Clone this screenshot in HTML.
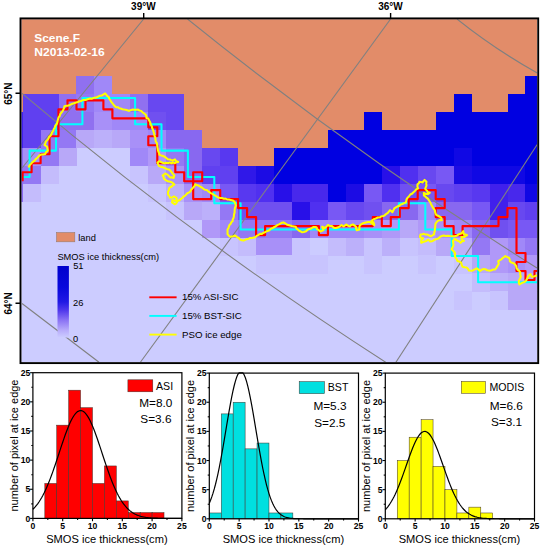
<!DOCTYPE html>
<html><head><meta charset="utf-8"><title>Scene F</title>
<style>
html,body{margin:0;padding:0;background:#fff;}
body{width:541px;height:550px;overflow:hidden;}
svg{display:block;}
text{font-family:"Liberation Sans",sans-serif;fill:#000;}
.tk{font-size:8.6px;font-weight:bold;}
.xl{font-size:11.1px;}
.yl{font-size:11.0px;}
.lg{font-size:10.6px;}
.ms{font-size:11.8px;}
.ax{font-size:10px;font-weight:bold;}
.ml{font-size:9.3px;}
.ml2{font-size:9.7px;}
.sc{font-size:11.0px;font-weight:bold;fill:#fff;}
</style></head><body>
<svg width="541" height="550" viewBox="0 0 541 550">
<defs><clipPath id="mc"><rect x="21.4" y="19.3" width="515.9" height="342.9"/></clipPath>
<linearGradient id="cb" x1="0" y1="0" x2="0" y2="1"><stop offset="0" stop-color="#0000cd"/><stop offset="0.3" stop-color="#0808dc"/><stop offset="0.5" stop-color="#2018e4"/><stop offset="0.62" stop-color="#5038ec"/><stop offset="0.75" stop-color="#8870f4"/><stop offset="0.9" stop-color="#b8acfb"/><stop offset="1" stop-color="#ccccff"/></linearGradient></defs>
<rect width="541" height="550" fill="#fff"/>
<g clip-path="url(#mc)" shape-rendering="crispEdges">
<rect x="21.4" y="19.3" width="515.9" height="342.9" fill="#ccccff"/>
<rect x="21.4" y="19.3" width="515.9" height="57.19" fill="#e28c69"/>
<rect x="22.60" y="76.19" width="54.18" height="18.23" fill="#e28c69"/>
<rect x="76.48" y="76.19" width="18.26" height="18.23" fill="#9070f0"/>
<rect x="94.44" y="76.19" width="18.26" height="18.23" fill="#a088f8"/>
<rect x="112.40" y="76.19" width="413.38" height="18.23" fill="#e28c69"/>
<rect x="525.48" y="76.19" width="12.12" height="18.23" fill="#0000e1"/>
<rect x="22.60" y="94.12" width="36.22" height="18.23" fill="#6040f0"/>
<rect x="58.52" y="94.12" width="18.26" height="18.23" fill="#9070f0"/>
<rect x="76.48" y="94.12" width="18.26" height="18.23" fill="#9478f4"/>
<rect x="94.44" y="94.12" width="36.22" height="18.23" fill="#a088f8"/>
<rect x="130.36" y="94.12" width="18.26" height="18.23" fill="#9070f0"/>
<rect x="148.32" y="94.12" width="36.22" height="18.23" fill="#6848f0"/>
<rect x="184.24" y="94.12" width="269.70" height="18.23" fill="#e28c69"/>
<rect x="453.64" y="94.12" width="18.26" height="18.23" fill="#0000e1"/>
<rect x="471.60" y="94.12" width="36.22" height="18.23" fill="#e28c69"/>
<rect x="507.52" y="94.12" width="30.08" height="18.23" fill="#0000e1"/>
<rect x="22.60" y="112.05" width="36.22" height="18.23" fill="#6040f0"/>
<rect x="58.52" y="112.05" width="36.22" height="18.23" fill="#9070f0"/>
<rect x="94.44" y="112.05" width="18.26" height="18.23" fill="#a890f8"/>
<rect x="112.40" y="112.05" width="36.22" height="18.23" fill="#a088f8"/>
<rect x="148.32" y="112.05" width="18.26" height="18.23" fill="#7050f0"/>
<rect x="166.28" y="112.05" width="18.26" height="18.23" fill="#6848f0"/>
<rect x="184.24" y="112.05" width="179.90" height="18.23" fill="#e28c69"/>
<rect x="363.84" y="112.05" width="18.26" height="18.23" fill="#0000e1"/>
<rect x="381.80" y="112.05" width="54.18" height="18.23" fill="#e28c69"/>
<rect x="435.68" y="112.05" width="101.92" height="18.23" fill="#0000e1"/>
<rect x="22.60" y="129.98" width="18.26" height="18.23" fill="#6040f0"/>
<rect x="40.56" y="129.98" width="36.22" height="18.23" fill="#9478f4"/>
<rect x="76.48" y="129.98" width="18.26" height="18.23" fill="#b8a8f8"/>
<rect x="94.44" y="129.98" width="18.26" height="18.23" fill="#bcb0fa"/>
<rect x="112.40" y="129.98" width="18.26" height="18.23" fill="#b8a8f8"/>
<rect x="130.36" y="129.98" width="18.26" height="18.23" fill="#a890f8"/>
<rect x="148.32" y="129.98" width="18.26" height="18.23" fill="#a088f8"/>
<rect x="166.28" y="129.98" width="36.22" height="18.23" fill="#8868f0"/>
<rect x="202.20" y="129.98" width="126.02" height="18.23" fill="#e28c69"/>
<rect x="327.92" y="129.98" width="209.68" height="18.23" fill="#0000e1"/>
<rect x="22.60" y="147.91" width="18.26" height="18.23" fill="#a890f8"/>
<rect x="40.56" y="147.91" width="18.26" height="18.23" fill="#9478f4"/>
<rect x="58.52" y="147.91" width="18.26" height="18.23" fill="#b8a8f8"/>
<rect x="130.36" y="147.91" width="18.26" height="18.23" fill="#a088f8"/>
<rect x="148.32" y="147.91" width="18.26" height="18.23" fill="#b098f8"/>
<rect x="166.28" y="147.91" width="18.26" height="18.23" fill="#9478f4"/>
<rect x="184.24" y="147.91" width="18.26" height="18.23" fill="#8868f0"/>
<rect x="202.20" y="147.91" width="18.26" height="18.23" fill="#6848f0"/>
<rect x="220.16" y="147.91" width="18.26" height="18.23" fill="#5838f0"/>
<rect x="238.12" y="147.91" width="36.22" height="18.23" fill="#e28c69"/>
<rect x="274.04" y="147.91" width="179.90" height="18.23" fill="#0000e1"/>
<rect x="453.64" y="147.91" width="18.26" height="18.23" fill="#1008e4"/>
<rect x="471.60" y="147.91" width="66.00" height="18.23" fill="#0000e1"/>
<rect x="22.60" y="165.84" width="18.26" height="18.23" fill="#9478f4"/>
<rect x="40.56" y="165.84" width="18.26" height="18.23" fill="#c4bcfc"/>
<rect x="130.36" y="165.84" width="18.26" height="18.23" fill="#c8c4fe"/>
<rect x="148.32" y="165.84" width="18.26" height="18.23" fill="#b8a8f8"/>
<rect x="166.28" y="165.84" width="18.26" height="18.23" fill="#a890f8"/>
<rect x="184.24" y="165.84" width="18.26" height="18.23" fill="#8868f0"/>
<rect x="202.20" y="165.84" width="36.22" height="18.23" fill="#6040f0"/>
<rect x="238.12" y="165.84" width="18.26" height="18.23" fill="#3018e8"/>
<rect x="256.08" y="165.84" width="18.26" height="18.23" fill="#1c0ce4"/>
<rect x="274.04" y="165.84" width="108.06" height="18.23" fill="#0000e1"/>
<rect x="381.80" y="165.84" width="18.26" height="18.23" fill="#2810e8"/>
<rect x="399.76" y="165.84" width="18.26" height="18.23" fill="#5030f0"/>
<rect x="417.72" y="165.84" width="18.26" height="18.23" fill="#6848f0"/>
<rect x="435.68" y="165.84" width="18.26" height="18.23" fill="#7858f4"/>
<rect x="453.64" y="165.84" width="18.26" height="18.23" fill="#1c0ce4"/>
<rect x="471.60" y="165.84" width="54.18" height="18.23" fill="#1008e4"/>
<rect x="525.48" y="165.84" width="12.12" height="18.23" fill="#0000e1"/>
<rect x="22.60" y="183.77" width="18.26" height="18.23" fill="#c4bcfc"/>
<rect x="148.32" y="183.77" width="18.26" height="18.23" fill="#c8c4fe"/>
<rect x="166.28" y="183.77" width="18.26" height="18.23" fill="#bcb0fa"/>
<rect x="184.24" y="183.77" width="18.26" height="18.23" fill="#a890f8"/>
<rect x="202.20" y="183.77" width="18.26" height="18.23" fill="#a088f8"/>
<rect x="220.16" y="183.77" width="18.26" height="18.23" fill="#7858f4"/>
<rect x="238.12" y="183.77" width="18.26" height="18.23" fill="#5838f0"/>
<rect x="256.08" y="183.77" width="18.26" height="18.23" fill="#5030f0"/>
<rect x="274.04" y="183.77" width="18.26" height="18.23" fill="#2810e8"/>
<rect x="292.00" y="183.77" width="36.22" height="18.23" fill="#4828ec"/>
<rect x="327.92" y="183.77" width="18.26" height="18.23" fill="#0000e1"/>
<rect x="345.88" y="183.77" width="18.26" height="18.23" fill="#1c0ce4"/>
<rect x="363.84" y="183.77" width="18.26" height="18.23" fill="#7858f4"/>
<rect x="381.80" y="183.77" width="18.26" height="18.23" fill="#5030f0"/>
<rect x="399.76" y="183.77" width="18.26" height="18.23" fill="#7050f0"/>
<rect x="417.72" y="183.77" width="18.26" height="18.23" fill="#7858f4"/>
<rect x="435.68" y="183.77" width="18.26" height="18.23" fill="#6848f0"/>
<rect x="453.64" y="183.77" width="18.26" height="18.23" fill="#6040f0"/>
<rect x="471.60" y="183.77" width="18.26" height="18.23" fill="#5838f0"/>
<rect x="489.56" y="183.77" width="18.26" height="18.23" fill="#4020ec"/>
<rect x="507.52" y="183.77" width="18.26" height="18.23" fill="#4828ec"/>
<rect x="525.48" y="183.77" width="12.12" height="18.23" fill="#1008e4"/>
<rect x="166.28" y="201.70" width="18.26" height="18.23" fill="#c8c4fe"/>
<rect x="184.24" y="201.70" width="18.26" height="18.23" fill="#b8a8f8"/>
<rect x="202.20" y="201.70" width="18.26" height="18.23" fill="#bcb0fa"/>
<rect x="220.16" y="201.70" width="18.26" height="18.23" fill="#9478f4"/>
<rect x="238.12" y="201.70" width="54.18" height="18.23" fill="#7050f0"/>
<rect x="292.00" y="201.70" width="18.26" height="18.23" fill="#2810e8"/>
<rect x="309.96" y="201.70" width="18.26" height="18.23" fill="#5030f0"/>
<rect x="327.92" y="201.70" width="18.26" height="18.23" fill="#7858f4"/>
<rect x="345.88" y="201.70" width="18.26" height="18.23" fill="#6848f0"/>
<rect x="363.84" y="201.70" width="18.26" height="18.23" fill="#7050f0"/>
<rect x="381.80" y="201.70" width="36.22" height="18.23" fill="#8868f0"/>
<rect x="417.72" y="201.70" width="18.26" height="18.23" fill="#a088f8"/>
<rect x="435.68" y="201.70" width="36.22" height="18.23" fill="#8868f0"/>
<rect x="471.60" y="201.70" width="18.26" height="18.23" fill="#7858f4"/>
<rect x="489.56" y="201.70" width="18.26" height="18.23" fill="#4020ec"/>
<rect x="507.52" y="201.70" width="18.26" height="18.23" fill="#6848f0"/>
<rect x="525.48" y="201.70" width="12.12" height="18.23" fill="#6040f0"/>
<rect x="202.20" y="219.63" width="18.26" height="18.23" fill="#b098f8"/>
<rect x="220.16" y="219.63" width="18.26" height="18.23" fill="#a088f8"/>
<rect x="238.12" y="219.63" width="54.18" height="18.23" fill="#9478f4"/>
<rect x="292.00" y="219.63" width="18.26" height="18.23" fill="#8868f0"/>
<rect x="309.96" y="219.63" width="54.18" height="18.23" fill="#a088f8"/>
<rect x="363.84" y="219.63" width="18.26" height="18.23" fill="#a890f8"/>
<rect x="381.80" y="219.63" width="18.26" height="18.23" fill="#b098f8"/>
<rect x="399.76" y="219.63" width="18.26" height="18.23" fill="#b8a8f8"/>
<rect x="417.72" y="219.63" width="18.26" height="18.23" fill="#b098f8"/>
<rect x="435.68" y="219.63" width="18.26" height="18.23" fill="#a890f8"/>
<rect x="453.64" y="219.63" width="18.26" height="18.23" fill="#a088f8"/>
<rect x="471.60" y="219.63" width="18.26" height="18.23" fill="#8868f0"/>
<rect x="489.56" y="219.63" width="18.26" height="18.23" fill="#7050f0"/>
<rect x="507.52" y="219.63" width="30.08" height="18.23" fill="#7858f4"/>
<rect x="220.16" y="237.56" width="18.26" height="18.23" fill="#c8c4fe"/>
<rect x="238.12" y="237.56" width="18.26" height="18.23" fill="#c4bcfc"/>
<rect x="256.08" y="237.56" width="36.22" height="18.23" fill="#a890f8"/>
<rect x="292.00" y="237.56" width="18.26" height="18.23" fill="#c8c4fe"/>
<rect x="327.92" y="237.56" width="18.26" height="18.23" fill="#c4bcfc"/>
<rect x="345.88" y="237.56" width="18.26" height="18.23" fill="#bcb0fa"/>
<rect x="363.84" y="237.56" width="18.26" height="18.23" fill="#c8c4fe"/>
<rect x="381.80" y="237.56" width="18.26" height="18.23" fill="#bcb0fa"/>
<rect x="399.76" y="237.56" width="18.26" height="18.23" fill="#c8c4fe"/>
<rect x="417.72" y="237.56" width="18.26" height="18.23" fill="#c4bcfc"/>
<rect x="435.68" y="237.56" width="18.26" height="18.23" fill="#b8a8f8"/>
<rect x="453.64" y="237.56" width="18.26" height="18.23" fill="#bcb0fa"/>
<rect x="471.60" y="237.56" width="18.26" height="18.23" fill="#9478f4"/>
<rect x="489.56" y="237.56" width="18.26" height="18.23" fill="#b098f8"/>
<rect x="507.52" y="237.56" width="18.26" height="18.23" fill="#a088f8"/>
<rect x="525.48" y="237.56" width="12.12" height="18.23" fill="#9478f4"/>
<rect x="256.08" y="255.49" width="72.14" height="18.23" fill="#c8c4fe"/>
<rect x="363.84" y="255.49" width="18.26" height="18.23" fill="#c8c4fe"/>
<rect x="417.72" y="255.49" width="18.26" height="18.23" fill="#c8c4fe"/>
<rect x="453.64" y="255.49" width="18.26" height="18.23" fill="#c8c4fe"/>
<rect x="471.60" y="255.49" width="18.26" height="18.23" fill="#b8a8f8"/>
<rect x="489.56" y="255.49" width="18.26" height="18.23" fill="#b098f8"/>
<rect x="507.52" y="255.49" width="18.26" height="18.23" fill="#a890f8"/>
<rect x="525.48" y="255.49" width="12.12" height="18.23" fill="#b098f8"/>
<rect x="471.60" y="273.42" width="18.26" height="18.23" fill="#c4bcfc"/>
<rect x="489.56" y="273.42" width="18.26" height="18.23" fill="#bcb0fa"/>
<rect x="507.52" y="273.42" width="30.08" height="18.23" fill="#b8a8f8"/>
<rect x="453.64" y="291.35" width="18.26" height="18.23" fill="#c8c4fe"/>
<rect x="489.56" y="291.35" width="18.26" height="18.23" fill="#c8c4fe"/>
<rect x="507.52" y="291.35" width="30.08" height="18.23" fill="#b8a8f8"/>
<rect x="21.4" y="76.19" width="1.20" height="18.23" fill="#e28c69"/>
<rect x="21.4" y="94.12" width="1.20" height="18.23" fill="#e28c69"/>
<rect x="21.4" y="112.05" width="1.20" height="18.23" fill="#4020ec"/>
<rect x="21.4" y="129.98" width="1.20" height="18.23" fill="#4020ec"/>
<rect x="21.4" y="147.91" width="1.20" height="18.23" fill="#8868f0"/>
<rect x="21.4" y="165.84" width="1.20" height="18.23" fill="#8868f0"/>
<rect x="21.4" y="183.77" width="1.20" height="18.23" fill="#8868f0"/>
</g>
<g clip-path="url(#mc)">
<path d="M143.7 19 L22 168" stroke="#808080" stroke-width="1.1" fill="none"/>
<path d="M390.6 19 L140.2 362.5" stroke="#808080" stroke-width="1.1" fill="none"/>
<path d="M395.6 362.7 L537.2 144.5" stroke="#808080" stroke-width="1.1" fill="none"/>
<path d="M22 93.3 Q195.2 240.2 386.4 362.7" stroke="#808080" stroke-width="1.1" fill="none"/>
<path d="M187.5 19 Q354.7 154.1 537 268" stroke="#808080" stroke-width="1.1" fill="none"/>
<path d="M22 303.5 L99 362.3" stroke="#808080" stroke-width="1.1" fill="none"/>
<path d="M457 19 Q494.9 49.3 537.3 73" stroke="#808080" stroke-width="1.1" fill="none"/>
<path d="M21.4 176.9 L29.6 176.9 L29.6 150.6 L56.0 150.6 L56.0 124.2 L82.4 124.2 L82.4 97.9 L135.1 97.9 L135.1 124.2 L161.5 124.2 L161.5 150.6 L187.9 150.6 L187.9 176.9 L214.3 176.9 L214.3 203.2 L240.6 203.2 L240.6 229.5 L398.9 229.5 L398.9 203.2 L425.3 203.2 L425.3 229.5 L451.7 229.5 L451.7 255.9 L478.1 255.9 L478.1 282.2 L537.3 282.2" fill="none" stroke="#00ffff" stroke-width="2.05" stroke-linejoin="round" stroke-linecap="butt"/>
<path d="M22.6 181.2 L22.6 172.2 L31.6 172.2 L31.6 163.2 L40.6 163.2 L40.6 154.2 L49.5 154.2 L49.5 136.2 L58.5 136.2 L58.5 109.3 L67.5 109.3 L67.5 100.3 L76.5 100.3 L76.5 109.3 L85.5 109.3 L85.5 100.3 L103.4 100.3 L103.4 109.3 L112.4 109.3 L112.4 118.3 L148.3 118.3 L148.3 127.3 L157.3 127.3 L157.3 136.2 L148.3 136.2 L148.3 145.2 L157.3 145.2 L157.3 163.2 L175.3 163.2 L175.3 172.2 L184.2 172.2 L184.2 181.2 L202.2 181.2 L202.2 172.2 L193.2 172.2 L193.2 199.1 L211.2 199.1 L211.2 190.1 L220.2 190.1 L220.2 199.1 L238.1 199.1 L238.1 208.1 L247.1 208.1 L247.1 217.1 L256.1 217.1 L256.1 235.1 L265.1 235.1 L265.1 226.1 L318.9 226.1 L318.9 235.1 L327.9 235.1 L327.9 226.1 L372.8 226.1 L372.8 217.1 L381.8 217.1 L381.8 226.1 L390.8 226.1 L390.8 217.1 L399.8 217.1 L399.8 208.1 L408.7 208.1 L408.7 199.1 L417.7 199.1 L417.7 190.1 L435.7 190.1 L435.7 199.1 L444.7 199.1 L444.7 208.1 L435.7 208.1 L435.7 217.1 L444.7 217.1 L444.7 226.1 L453.6 226.1 L453.6 235.1 L462.6 235.1 L462.6 226.1 L498.5 226.1 L498.5 217.1 L507.5 217.1 L507.5 208.1 L516.5 208.1 L516.5 253.0 L525.5 253.0 L525.5 262.0 L516.5 262.0 L516.5 271.0 L525.5 271.0 L525.5 280.0 L534.5 280.0 L534.5 271.0 L537.3 271.0" fill="none" stroke="#ff0000" stroke-width="2.15" stroke-linejoin="round" stroke-linecap="butt"/>
<path d="M28.4 167.5 L29.5 165.4 L30.9 163.9 L32.3 162.3 L33.5 161.4 L34.8 160.4 L35.7 159.1 L37.4 157.8 L38.3 156.7 L39.6 155.3 L41.3 154.6 L43.2 154.5 L45.2 153.9 L46.2 152.1 L47.8 150.7 L47.6 149.2 L47.1 146.8 L45.9 145.8 L44.5 144.9 L45.6 142.8 L45.8 141.6 L47.5 139.9 L48.5 138.5 L49.2 136.7 L50.3 135.9 L51.5 134.2 L52.0 132.6 L53.2 130.8 L53.9 128.9 L54.7 127.7 L55.2 125.7 L56.6 124.2 L57.3 122.5 L57.6 120.8 L58.1 118.9 L58.6 117.3 L59.7 116.0 L60.1 114.4 L61.2 112.8 L62.2 111.8 L63.1 110.2 L64.0 108.1 L64.4 106.3 L66.4 105.7 L67.6 105.7 L69.2 105.3 L70.9 104.4 L72.3 103.8 L74.0 103.3 L76.1 102.5 L77.9 102.0 L79.5 101.3 L80.9 101.0 L82.3 100.4 L83.8 99.9 L85.7 100.0 L87.0 99.4 L88.3 99.1 L90.3 98.6 L92.1 98.7 L93.8 97.8 L95.1 97.8 L96.8 97.3 L98.1 96.6 L99.9 95.7 L101.9 95.4 L103.2 94.6 L105.2 93.4 L106.0 94.4 L107.4 96.1 L108.7 97.0 L109.3 98.7 L110.6 100.8 L111.5 102.2 L112.9 103.8 L113.5 104.7 L114.8 106.1 L116.1 107.2 L118.1 107.3 L119.2 108.3 L120.6 108.5 L122.4 109.2 L124.4 109.6 L126.7 110.0 L128.9 110.9 L130.4 110.2 L132.8 109.6 L134.4 109.7 L136.7 109.8 L138.0 109.6 L139.5 110.6 L141.2 110.9 L142.5 112.2 L144.5 113.8 L145.8 114.8 L146.4 116.7 L146.4 118.0 L148.3 118.6 L149.2 120.5 L150.3 122.5 L150.7 124.5 L151.8 126.3 L152.2 128.2 L153.4 130.8 L153.6 132.2 L154.2 133.7 L154.4 135.5 L155.3 137.5 L155.4 139.3 L155.8 141.6 L156.8 142.8 L157.2 145.0 L157.3 146.8 L157.7 148.6 L158.1 150.9 L159.1 153.3 L159.4 154.8 L161.1 155.4 L162.5 155.7 L164.6 156.7 L166.1 157.8 L167.8 159.3 L170.3 159.6 L172.3 160.6 L174.9 159.3 L176.1 161.0 L178.2 161.9 L176.6 162.2 L174.9 163.2 L173.2 162.5 L171.5 163.2 L169.8 162.5 L168.4 162.9 L166.1 162.8 L164.6 163.2 L162.6 162.8 L161.2 162.1 L159.4 161.2 L157.5 162.5 L158.0 163.9 L158.8 165.8 L161.0 166.9 L162.6 167.1 L165.2 168.3 L167.5 169.2 L169.1 169.6 L170.7 171.1 L171.7 172.2 L172.8 173.9 L174.3 175.5 L173.6 178.0 L171.9 177.3 L170.4 177.4 L168.7 175.9 L167.8 174.8 L165.2 173.5 L163.7 174.7 L162.6 175.5 L163.7 177.1 L163.9 178.7 L166.2 180.4 L167.8 181.3 L170.5 181.8 L172.3 182.6 L174.3 184.5 L172.7 185.3 L171.7 186.5 L170.1 187.2 L169.1 188.4 L168.7 190.6 L168.0 192.0 L168.1 194.6 L169.4 196.2 L170.1 197.8 L172.1 197.4 L173.9 196.5 L176.5 197.8 L176.5 199.9 L177.2 201.7 L176.3 203.3 L174.6 204.3 L173.5 203.3 L172.0 202.3 L172.6 199.8 L174.3 200.7 L176.5 201.1 L179.1 200.4 L180.4 199.4 L182.5 197.7 L183.6 196.5 L184.8 195.9 L186.4 194.3 L187.2 193.3 L188.8 192.6 L190.5 191.4 L191.1 189.9 L192.7 188.1 L194.4 186.3 L195.3 184.2 L196.8 185.1 L198.2 185.4 L200.6 186.8 L201.8 187.5 L203.4 188.8 L204.9 189.7 L206.9 190.1 L208.2 191.3 L209.4 192.0 L210.8 193.1 L212.5 193.9 L214.3 195.1 L216.5 196.4 L218.1 197.5 L220.4 197.9 L222.0 198.1 L223.9 198.7 L225.5 198.6 L227.2 199.4 L229.0 199.5 L230.7 199.9 L232.7 200.4 L234.6 201.8 L235.2 203.5 L235.9 205.7 L235.0 207.7 L234.7 209.1 L234.6 210.9 L234.6 212.7 L234.0 214.4 L233.9 216.1 L233.5 218.1 L232.7 219.6 L232.6 221.2 L231.3 222.3 L230.7 223.8 L229.4 225.1 L228.8 226.8 L228.5 228.0 L227.5 229.6 L227.6 231.9 L227.5 234.2 L228.8 235.7 L230.1 236.8 L231.8 236.4 L233.5 236.3 L235.2 235.5 L236.9 237.1 L238.7 237.8 L239.8 239.3 L241.8 240.3 L243.6 240.6 L245.6 239.6 L246.7 239.3 L248.8 238.7 L250.1 238.0 L251.9 238.0 L254.0 237.4 L255.8 236.9 L256.7 235.9 L258.5 234.8 L260.1 233.8 L261.8 234.0 L263.0 232.9 L264.3 232.6 L266.0 231.6 L267.6 230.9 L269.5 230.3 L270.3 229.1 L272.1 228.3 L273.8 227.3 L275.5 226.5 L277.2 225.1 L279.5 224.1 L281.6 222.8 L283.4 222.4 L285.4 223.5 L287.3 224.8 L289.1 225.3 L291.8 226.1 L293.9 226.4 L295.7 226.7 L296.4 228.4 L298.1 229.7 L298.9 230.6 L300.2 231.2 L302.2 232.3 L303.7 232.0 L306.1 231.2 L307.5 229.7 L309.3 228.9 L311.2 228.4 L313.2 227.1 L315.1 227.0 L316.4 227.3 L317.0 229.0 L318.3 229.9 L320.3 231.5 L322.0 230.9 L323.5 229.9 L322.5 227.9 L322.2 226.7 L324.8 228.0 L326.6 226.4 L328.0 225.0 L329.6 225.9 L331.9 226.1 L333.3 227.3 L334.5 228.0 L336.1 228.0 L338.4 227.3 L339.6 226.5 L341.6 225.0 L343.6 226.5 L345.0 225.4 L346.5 224.5 L348.1 225.8 L349.7 226.4 L351.1 225.1 L352.9 224.5 L354.6 225.5 L356.2 227.0 L356.1 228.3 L356.8 230.3 L359.4 229.6 L359.4 226.4 L360.3 224.8 L362.0 223.8 L363.8 223.0 L365.9 222.5 L368.1 222.0 L369.8 221.9 L372.3 223.8 L374.3 225.1 L373.6 222.5 L371.7 220.6 L373.7 219.3 L375.6 218.6 L377.7 217.5 L380.1 217.3 L381.4 216.2 L383.3 216.1 L384.6 215.4 L386.0 214.1 L387.9 212.8 L389.2 211.1 L389.8 210.2 L391.4 211.1 L392.4 212.2 L393.3 210.6 L394.3 208.3 L395.9 207.3 L397.6 206.3 L399.4 205.8 L400.8 204.4 L402.3 204.0 L404.0 203.1 L405.8 202.5 L406.3 201.0 L406.5 199.3 L407.7 197.6 L409.1 196.1 L410.3 194.5 L412.3 193.5 L413.2 192.4 L414.9 190.9 L416.3 189.3 L418.1 188.3 L417.4 186.7 L417.5 184.4 L418.8 183.3 L419.4 181.8 L420.8 181.9 L422.6 182.5 L423.4 181.2 L424.6 179.9 L426.5 181.8 L426.2 183.7 L426.5 185.7 L425.6 187.7 L425.2 188.9 L426.9 190.6 L427.8 192.2 L429.8 192.8 L427.8 194.1 L425.6 193.9 L423.9 192.8 L423.9 195.4 L425.0 196.3 L426.1 197.4 L427.8 198.6 L429.1 200.6 L430.4 202.5 L431.1 204.5 L432.3 206.4 L433.2 208.1 L434.9 210.3 L435.2 212.5 L436.2 214.8 L438.5 216.0 L441.2 217.6 L441.9 220.2 L439.5 220.1 L438.0 220.8 L436.5 222.2 L435.4 224.1 L435.3 225.8 L435.2 227.6 L434.8 229.2 L434.8 231.3 L434.2 232.5 L434.1 234.4 L432.9 235.0 L430.9 236.3 L429.2 235.5 L427.0 234.4 L425.0 234.4 L423.8 233.8 L422.5 234.2 L420.5 234.4 L419.9 237.0 L421.7 237.9 L423.1 238.3 L421.2 240.2 L421.2 242.8 L422.5 242.2 L424.4 241.5 L426.4 240.9 L428.3 239.6 L430.2 241.5 L432.0 241.2 L433.3 240.6 L434.8 239.6 L436.9 239.1 L438.6 238.3 L440.3 236.6 L442.5 235.7 L443.9 235.6 L445.6 236.0 L447.7 235.7 L450.0 236.1 L452.2 236.3 L454.6 236.2 L456.8 235.7 L458.7 234.3 L460.6 233.8 L462.2 232.7 L463.2 231.2 L463.6 232.8 L463.9 234.4 L465.6 234.4 L467.1 235.1 L466.0 235.8 L464.5 237.0 L461.3 237.0 L461.9 239.6 L463.9 240.9 L461.9 241.6 L460.6 242.8 L459.5 241.6 L458.0 240.9 L456.6 240.3 L454.8 238.9 L452.9 240.9 L453.2 243.0 L453.5 245.4 L452.5 247.5 L451.6 249.3 L453.4 251.0 L454.8 252.5 L455.2 253.9 L454.9 255.7 L455.5 257.7 L456.7 259.1 L457.4 260.9 L459.4 261.5 L461.3 262.9 L461.6 264.6 L462.6 266.8 L464.7 267.3 L466.5 267.4 L467.9 268.8 L469.0 270.6 L472.0 270.8 L474.2 269.6 L476.8 268.3 L478.5 269.6 L480.1 270.9 L482.0 269.6 L483.9 269.0 L485.9 269.4 L487.2 270.3 L489.9 270.7 L491.7 270.3 L492.8 269.6 L495.0 269.4 L496.2 268.3 L497.0 266.6 L497.7 265.7 L498.8 263.8 L498.2 261.2 L499.5 260.3 L501.4 259.3 L502.4 258.3 L504.4 256.8 L505.3 256.1 L507.5 257.1 L509.2 258.0 L509.8 259.8 L509.8 261.2 L511.5 262.6 L513.7 263.2 L515.0 264.4 L516.3 266.4 L516.5 268.0 L517.6 269.6 L518.9 270.7 L520.2 272.2 L520.2 274.4 L520.8 276.8 L519.7 279.0 L518.9 280.6 L518.8 282.8 L519.5 284.5 L521.5 283.2 L522.8 282.6 L524.8 281.8 L526.0 280.6 L527.3 278.5 L527.9 276.8 L529.1 275.4 L530.5 274.2 L531.8 276.8 L533.8 276.5 L535.0 276.1 L537.2 275.5" fill="none" stroke="#ffff00" stroke-width="2.05" stroke-linejoin="round" stroke-linecap="butt"/>
</g>
<rect x="20.5" y="18.400000000000002" width="517.6999999999999" height="344.7" fill="none" stroke="#000" stroke-width="1.9"/>
<path d="M143.7 13 V18.5 M390.6 13 V18.5 M15.5 93.3 H20.6 M15.5 303.3 H20.6" stroke="#000" stroke-width="1.4"/>
<text x="143.4" y="10.4" text-anchor="middle" class="ax">39°W</text>
<text x="390.5" y="10.4" text-anchor="middle" class="ax">36°W</text>
<text transform="translate(12.1,93.6) rotate(-90)" text-anchor="middle" class="ax">65°N</text>
<text transform="translate(12.1,303.4) rotate(-90)" text-anchor="middle" class="ax">64°N</text>
<text x="34.3" y="42.2" class="sc" textLength="45.6" lengthAdjust="spacingAndGlyphs">Scene.F</text>
<text x="34.3" y="55.8" class="sc" textLength="70.4" lengthAdjust="spacingAndGlyphs">N2013-02-16</text>
<rect x="56.6" y="232.6" width="18.2" height="9.2" fill="#e28c69" stroke="#9a7a6a" stroke-width="0.6"/>
<text x="78.3" y="240.6" class="ml">land</text>
<text x="57.4" y="259.6" class="ml">SMOS ice thickness(cm)</text>
<rect x="57.5" y="266" width="11.4" height="71.6" fill="url(#cb)"/>
<text x="73.2" y="269.3" class="ml">51</text>
<text x="73" y="306" class="ml">26</text>
<text x="73" y="342.2" class="ml">0</text>
<path d="M149.3 297.3 H176.6" stroke="#ff0000" stroke-width="1.9"/>
<text x="182" y="300.4" class="ml2">15% ASI-SIC</text>
<path d="M149.3 315.9 H176.6" stroke="#00ffff" stroke-width="1.9"/>
<text x="182" y="319.0" class="ml2">15% BST-SIC</text>
<path d="M149.3 334.6 H176.6" stroke="#ffff00" stroke-width="1.9"/>
<text x="182" y="337.7" class="ml2">PSO ice edge</text>
<rect x="44.82" y="483.43" width="11.92" height="34.97" fill="#ff0000" stroke="#40302a" stroke-width="0.5"/>
<rect x="56.74" y="425.15" width="11.92" height="93.25" fill="#ff0000" stroke="#40302a" stroke-width="0.5"/>
<rect x="68.66" y="390.18" width="11.92" height="128.22" fill="#ff0000" stroke="#40302a" stroke-width="0.5"/>
<rect x="80.58" y="407.67" width="11.92" height="110.73" fill="#ff0000" stroke="#40302a" stroke-width="0.5"/>
<rect x="92.50" y="483.43" width="11.92" height="34.97" fill="#ff0000" stroke="#40302a" stroke-width="0.5"/>
<rect x="104.42" y="465.95" width="11.92" height="52.45" fill="#ff0000" stroke="#40302a" stroke-width="0.5"/>
<rect x="116.34" y="500.92" width="11.92" height="17.48" fill="#ff0000" stroke="#40302a" stroke-width="0.5"/>
<rect x="128.26" y="512.57" width="11.92" height="5.83" fill="#ff0000" stroke="#40302a" stroke-width="0.5"/>
<rect x="140.18" y="512.57" width="11.92" height="5.83" fill="#ff0000" stroke="#40302a" stroke-width="0.5"/>
<rect x="152.10" y="512.57" width="11.92" height="5.83" fill="#ff0000" stroke="#40302a" stroke-width="0.5"/>
<polyline points="32.90,509.27 34.14,508.04 35.38,506.67 36.62,505.18 37.87,503.54 39.11,501.75 40.35,499.81 41.59,497.71 42.83,495.46 44.08,493.04 45.32,490.47 46.56,487.73 47.80,484.84 49.04,481.80 50.28,478.61 51.52,475.30 52.77,471.86 54.01,468.32 55.25,464.69 56.49,460.99 57.73,457.24 58.97,453.46 60.22,449.68 61.46,445.92 62.70,442.21 63.94,438.58 65.18,435.06 66.42,431.67 67.67,428.44 68.91,425.41 70.15,422.60 71.39,420.03 72.63,417.73 73.88,415.72 75.12,414.02 76.36,412.65 77.60,411.62 78.84,410.94 80.08,410.61 81.32,410.65 82.57,411.04 83.81,411.80 85.05,412.90 86.29,414.34 87.53,416.10 88.78,418.17 90.02,420.52 91.26,423.14 92.50,426.00 93.74,429.07 94.98,432.33 96.22,435.75 97.47,439.30 98.71,442.95 99.95,446.67 101.19,450.43 102.43,454.22 103.68,457.99 104.92,461.73 106.16,465.42 107.40,469.04 108.64,472.56 109.88,475.97 111.12,479.26 112.37,482.42 113.61,485.43 114.85,488.29 116.09,490.99 117.33,493.54 118.57,495.92 119.82,498.15 121.06,500.21 122.30,502.12 123.54,503.88 124.78,505.49 126.03,506.96 127.27,508.29 128.51,509.50 129.75,510.60 130.99,511.58 132.23,512.45 133.47,513.24 134.72,513.93 135.96,514.54 137.20,515.08 138.44,515.56 139.68,515.97 140.93,516.33 142.17,516.65 143.41,516.92 144.65,517.15 145.89,517.35 147.13,517.52 148.38,517.67 149.62,517.79 150.86,517.90 152.10,517.98 153.34,518.06 154.58,518.12 155.82,518.17 157.07,518.21 158.31,518.25 159.55,518.28 160.79,518.30 162.03,518.32 163.28,518.34 164.52,518.35 165.76,518.36 167.00,518.37 168.24,518.37 169.48,518.38 170.72,518.38 171.97,518.39 173.21,518.39 174.45,518.39 175.69,518.39 176.93,518.40 178.18,518.40 179.42,518.40 180.66,518.40 181.90,518.40" fill="none" stroke="#000" stroke-width="1.2"/>
<rect x="32.9" y="372.7" width="149.0" height="145.7" fill="none" stroke="#000" stroke-width="1.2"/>
<path d="M30.10 518.40 H32.9" stroke="#000" stroke-width="1.1"/>
<path d="M32.90 518.4 V521.20" stroke="#000" stroke-width="1.1"/>
<path d="M31.30 503.83 H32.9" stroke="#000" stroke-width="1.1"/>
<path d="M47.80 518.4 V520.00" stroke="#000" stroke-width="1.1"/>
<path d="M30.10 489.26 H32.9" stroke="#000" stroke-width="1.1"/>
<path d="M62.70 518.4 V521.20" stroke="#000" stroke-width="1.1"/>
<path d="M31.30 474.69 H32.9" stroke="#000" stroke-width="1.1"/>
<path d="M77.60 518.4 V520.00" stroke="#000" stroke-width="1.1"/>
<path d="M30.10 460.12 H32.9" stroke="#000" stroke-width="1.1"/>
<path d="M92.50 518.4 V521.20" stroke="#000" stroke-width="1.1"/>
<path d="M31.30 445.55 H32.9" stroke="#000" stroke-width="1.1"/>
<path d="M107.40 518.4 V520.00" stroke="#000" stroke-width="1.1"/>
<path d="M30.10 430.98 H32.9" stroke="#000" stroke-width="1.1"/>
<path d="M122.30 518.4 V521.20" stroke="#000" stroke-width="1.1"/>
<path d="M31.30 416.41 H32.9" stroke="#000" stroke-width="1.1"/>
<path d="M137.20 518.4 V520.00" stroke="#000" stroke-width="1.1"/>
<path d="M30.10 401.84 H32.9" stroke="#000" stroke-width="1.1"/>
<path d="M152.10 518.4 V521.20" stroke="#000" stroke-width="1.1"/>
<path d="M31.30 387.27 H32.9" stroke="#000" stroke-width="1.1"/>
<path d="M167.00 518.4 V520.00" stroke="#000" stroke-width="1.1"/>
<path d="M30.10 372.70 H32.9" stroke="#000" stroke-width="1.1"/>
<path d="M181.90 518.4 V521.20" stroke="#000" stroke-width="1.1"/>
<text x="30.20" y="521.50" text-anchor="end" class="tk">0</text>
<text x="32.90" y="528.80" text-anchor="middle" class="tk">0</text>
<text x="30.20" y="492.36" text-anchor="end" class="tk">5</text>
<text x="62.70" y="528.80" text-anchor="middle" class="tk">5</text>
<text x="30.20" y="463.22" text-anchor="end" class="tk">10</text>
<text x="92.50" y="528.80" text-anchor="middle" class="tk">10</text>
<text x="30.20" y="434.08" text-anchor="end" class="tk">15</text>
<text x="122.30" y="528.80" text-anchor="middle" class="tk">15</text>
<text x="30.20" y="404.94" text-anchor="end" class="tk">20</text>
<text x="152.10" y="528.80" text-anchor="middle" class="tk">20</text>
<text x="30.20" y="375.80" text-anchor="end" class="tk">25</text>
<text x="181.90" y="528.80" text-anchor="middle" class="tk">25</text>
<text x="106.90" y="543.00" text-anchor="middle" class="xl">SMOS ice thickness(cm)</text>
<text transform="translate(17.90,445.55) rotate(-90)" text-anchor="middle" class="yl">number of pixel at ice edge</text>
<rect x="127.9" y="379.8" width="24.900000000000006" height="12.0" fill="#ff0000" stroke="#40302a" stroke-width="0.5"/>
<text x="156" y="389.60" class="lg">ASI</text>
<text x="139.3" y="406.6" class="ms">M=8.0</text>
<text x="140.3" y="423.2" class="ms">S=3.6</text>
<rect x="209.30" y="512.97" width="11.94" height="5.83" fill="#00e0e0" stroke="#40302a" stroke-width="0.5"/>
<rect x="221.24" y="413.90" width="11.94" height="104.90" fill="#00e0e0" stroke="#40302a" stroke-width="0.5"/>
<rect x="233.17" y="402.24" width="11.94" height="116.56" fill="#00e0e0" stroke="#40302a" stroke-width="0.5"/>
<rect x="245.11" y="448.86" width="11.94" height="69.94" fill="#00e0e0" stroke="#40302a" stroke-width="0.5"/>
<rect x="257.04" y="443.04" width="11.94" height="75.76" fill="#00e0e0" stroke="#40302a" stroke-width="0.5"/>
<rect x="268.98" y="512.97" width="11.94" height="5.83" fill="#00e0e0" stroke="#40302a" stroke-width="0.5"/>
<rect x="280.92" y="512.97" width="11.94" height="5.83" fill="#00e0e0" stroke="#40302a" stroke-width="0.5"/>
<polyline points="209.30,503.22 210.54,500.27 211.79,496.92 213.03,493.14 214.27,488.91 215.52,484.24 216.76,479.10 218.00,473.52 219.25,467.52 220.49,461.11 221.73,454.36 222.98,447.32 224.22,440.05 225.46,432.65 226.71,425.20 227.95,417.81 229.19,410.59 230.44,403.66 231.68,397.13 232.92,391.13 234.17,385.75 235.41,381.11 236.65,377.29 237.90,374.37 239.14,372.81 240.38,372.81 241.63,372.81 242.87,372.81 244.11,374.67 245.36,377.70 246.60,381.62 247.84,386.36 249.09,391.82 250.33,397.89 251.57,404.47 252.82,411.45 254.06,418.69 255.30,426.09 256.55,433.54 257.79,440.93 259.03,448.17 260.28,455.19 261.52,461.90 262.76,468.26 264.01,474.22 265.25,479.74 266.49,484.82 267.74,489.44 268.98,493.61 270.22,497.34 271.47,500.64 272.71,503.54 273.95,506.07 275.20,508.25 276.44,510.12 277.68,511.70 278.93,513.04 280.17,514.16 281.41,515.08 282.66,515.85 283.90,516.47 285.14,516.97 286.39,517.38 287.63,517.70 288.87,517.96 290.12,518.16 291.36,518.31 292.60,518.43 293.85,518.53 295.09,518.60 296.33,518.65 297.58,518.69 298.82,518.72 300.06,518.74 301.31,518.76 302.55,518.77 303.79,518.78 305.04,518.79 306.28,518.79 307.52,518.79 308.77,518.80 310.01,518.80 311.25,518.80 312.50,518.80 313.74,518.80 314.98,518.80 316.23,518.80 317.47,518.80 318.71,518.80 319.96,518.80 321.20,518.80 322.44,518.80 323.69,518.80 324.93,518.80 326.17,518.80 327.42,518.80 328.66,518.80 329.90,518.80 331.15,518.80 332.39,518.80 333.63,518.80 334.88,518.80 336.12,518.80 337.36,518.80 338.61,518.80 339.85,518.80 341.09,518.80 342.34,518.80 343.58,518.80 344.82,518.80 346.07,518.80 347.31,518.80 348.55,518.80 349.80,518.80 351.04,518.80 352.28,518.80 353.53,518.80 354.77,518.80 356.01,518.80 357.26,518.80 358.50,518.80" fill="none" stroke="#000" stroke-width="1.2"/>
<rect x="209.3" y="373.1" width="149.2" height="145.69999999999993" fill="none" stroke="#000" stroke-width="1.2"/>
<path d="M206.50 518.80 H209.3" stroke="#000" stroke-width="1.1"/>
<path d="M209.30 518.8 V521.60" stroke="#000" stroke-width="1.1"/>
<path d="M207.70 504.23 H209.3" stroke="#000" stroke-width="1.1"/>
<path d="M224.22 518.8 V520.40" stroke="#000" stroke-width="1.1"/>
<path d="M206.50 489.66 H209.3" stroke="#000" stroke-width="1.1"/>
<path d="M239.14 518.8 V521.60" stroke="#000" stroke-width="1.1"/>
<path d="M207.70 475.09 H209.3" stroke="#000" stroke-width="1.1"/>
<path d="M254.06 518.8 V520.40" stroke="#000" stroke-width="1.1"/>
<path d="M206.50 460.52 H209.3" stroke="#000" stroke-width="1.1"/>
<path d="M268.98 518.8 V521.60" stroke="#000" stroke-width="1.1"/>
<path d="M207.70 445.95 H209.3" stroke="#000" stroke-width="1.1"/>
<path d="M283.90 518.8 V520.40" stroke="#000" stroke-width="1.1"/>
<path d="M206.50 431.38 H209.3" stroke="#000" stroke-width="1.1"/>
<path d="M298.82 518.8 V521.60" stroke="#000" stroke-width="1.1"/>
<path d="M207.70 416.81 H209.3" stroke="#000" stroke-width="1.1"/>
<path d="M313.74 518.8 V520.40" stroke="#000" stroke-width="1.1"/>
<path d="M206.50 402.24 H209.3" stroke="#000" stroke-width="1.1"/>
<path d="M328.66 518.8 V521.60" stroke="#000" stroke-width="1.1"/>
<path d="M207.70 387.67 H209.3" stroke="#000" stroke-width="1.1"/>
<path d="M343.58 518.8 V520.40" stroke="#000" stroke-width="1.1"/>
<path d="M206.50 373.10 H209.3" stroke="#000" stroke-width="1.1"/>
<path d="M358.50 518.8 V521.60" stroke="#000" stroke-width="1.1"/>
<text x="206.60" y="521.90" text-anchor="end" class="tk">0</text>
<text x="209.30" y="529.20" text-anchor="middle" class="tk">0</text>
<text x="206.60" y="492.76" text-anchor="end" class="tk">5</text>
<text x="239.14" y="529.20" text-anchor="middle" class="tk">5</text>
<text x="206.60" y="463.62" text-anchor="end" class="tk">10</text>
<text x="268.98" y="529.20" text-anchor="middle" class="tk">10</text>
<text x="206.60" y="434.48" text-anchor="end" class="tk">15</text>
<text x="298.82" y="529.20" text-anchor="middle" class="tk">15</text>
<text x="206.60" y="405.34" text-anchor="end" class="tk">20</text>
<text x="328.66" y="529.20" text-anchor="middle" class="tk">20</text>
<text x="206.60" y="376.20" text-anchor="end" class="tk">25</text>
<text x="358.50" y="529.20" text-anchor="middle" class="tk">25</text>
<text x="283.40" y="543.40" text-anchor="middle" class="xl">SMOS ice thickness(cm)</text>
<text transform="translate(194.30,445.95) rotate(-90)" text-anchor="middle" class="yl">number of pixel at ice edge</text>
<rect x="299.2" y="381.6" width="25.30000000000001" height="12.099999999999966" fill="#00e0e0" stroke="#40302a" stroke-width="0.5"/>
<text x="327.8" y="391.45" class="lg">BST</text>
<text x="313.4" y="410.3" class="ms">M=5.3</text>
<text x="314.2" y="426.6" class="ms">S=2.5</text>
<rect x="397.24" y="460.52" width="11.94" height="58.28" fill="#ffff00" stroke="#40302a" stroke-width="0.5"/>
<rect x="409.17" y="437.21" width="11.94" height="81.59" fill="#ffff00" stroke="#40302a" stroke-width="0.5"/>
<rect x="421.11" y="419.72" width="11.94" height="99.08" fill="#ffff00" stroke="#40302a" stroke-width="0.5"/>
<rect x="433.04" y="466.35" width="11.94" height="52.45" fill="#ffff00" stroke="#40302a" stroke-width="0.5"/>
<rect x="444.98" y="489.66" width="11.94" height="29.14" fill="#ffff00" stroke="#40302a" stroke-width="0.5"/>
<rect x="456.92" y="512.97" width="11.94" height="5.83" fill="#ffff00" stroke="#40302a" stroke-width="0.5"/>
<rect x="468.85" y="507.14" width="11.94" height="11.66" fill="#ffff00" stroke="#40302a" stroke-width="0.5"/>
<rect x="480.79" y="512.97" width="11.94" height="5.83" fill="#ffff00" stroke="#40302a" stroke-width="0.5"/>
<polyline points="385.30,509.74 386.54,508.37 387.79,506.84 389.03,505.16 390.27,503.30 391.52,501.28 392.76,499.08 394.00,496.71 395.25,494.16 396.49,491.44 397.73,488.56 398.98,485.52 400.22,482.34 401.46,479.04 402.71,475.64 403.95,472.16 405.19,468.63 406.44,465.06 407.68,461.51 408.92,458.00 410.17,454.56 411.41,451.23 412.65,448.05 413.90,445.06 415.14,442.28 416.38,439.76 417.63,437.52 418.87,435.60 420.11,434.01 421.36,432.79 422.60,431.94 423.84,431.47 425.09,431.40 426.33,431.72 427.57,432.44 428.82,433.53 430.06,434.99 431.30,436.79 432.55,438.92 433.79,441.34 435.03,444.03 436.28,446.95 437.52,450.07 438.76,453.35 440.01,456.75 441.25,460.24 442.49,463.78 443.74,467.34 444.98,470.89 446.22,474.40 447.47,477.83 448.71,481.17 449.95,484.39 451.20,487.48 452.44,490.42 453.68,493.20 454.93,495.81 456.17,498.25 457.41,500.51 458.66,502.60 459.90,504.51 461.14,506.25 462.39,507.83 463.63,509.26 464.87,510.54 466.12,511.67 467.36,512.68 468.60,513.57 469.85,514.35 471.09,515.04 472.33,515.63 473.58,516.14 474.82,516.58 476.06,516.95 477.31,517.27 478.55,517.54 479.79,517.76 481.04,517.95 482.28,518.11 483.52,518.24 484.77,518.35 486.01,518.44 487.25,518.51 488.50,518.57 489.74,518.62 490.98,518.66 492.23,518.69 493.47,518.71 494.71,518.73 495.96,518.75 497.20,518.76 498.44,518.77 499.69,518.78 500.93,518.78 502.17,518.79 503.42,518.79 504.66,518.79 505.90,518.79 507.15,518.80 508.39,518.80 509.63,518.80 510.88,518.80 512.12,518.80 513.36,518.80 514.61,518.80 515.85,518.80 517.09,518.80 518.34,518.80 519.58,518.80 520.82,518.80 522.07,518.80 523.31,518.80 524.55,518.80 525.80,518.80 527.04,518.80 528.28,518.80 529.53,518.80 530.77,518.80 532.01,518.80 533.26,518.80 534.50,518.80" fill="none" stroke="#000" stroke-width="1.2"/>
<rect x="385.3" y="373.1" width="149.2" height="145.69999999999993" fill="none" stroke="#000" stroke-width="1.2"/>
<path d="M382.50 518.80 H385.3" stroke="#000" stroke-width="1.1"/>
<path d="M385.30 518.8 V521.60" stroke="#000" stroke-width="1.1"/>
<path d="M383.70 504.23 H385.3" stroke="#000" stroke-width="1.1"/>
<path d="M400.22 518.8 V520.40" stroke="#000" stroke-width="1.1"/>
<path d="M382.50 489.66 H385.3" stroke="#000" stroke-width="1.1"/>
<path d="M415.14 518.8 V521.60" stroke="#000" stroke-width="1.1"/>
<path d="M383.70 475.09 H385.3" stroke="#000" stroke-width="1.1"/>
<path d="M430.06 518.8 V520.40" stroke="#000" stroke-width="1.1"/>
<path d="M382.50 460.52 H385.3" stroke="#000" stroke-width="1.1"/>
<path d="M444.98 518.8 V521.60" stroke="#000" stroke-width="1.1"/>
<path d="M383.70 445.95 H385.3" stroke="#000" stroke-width="1.1"/>
<path d="M459.90 518.8 V520.40" stroke="#000" stroke-width="1.1"/>
<path d="M382.50 431.38 H385.3" stroke="#000" stroke-width="1.1"/>
<path d="M474.82 518.8 V521.60" stroke="#000" stroke-width="1.1"/>
<path d="M383.70 416.81 H385.3" stroke="#000" stroke-width="1.1"/>
<path d="M489.74 518.8 V520.40" stroke="#000" stroke-width="1.1"/>
<path d="M382.50 402.24 H385.3" stroke="#000" stroke-width="1.1"/>
<path d="M504.66 518.8 V521.60" stroke="#000" stroke-width="1.1"/>
<path d="M383.70 387.67 H385.3" stroke="#000" stroke-width="1.1"/>
<path d="M519.58 518.8 V520.40" stroke="#000" stroke-width="1.1"/>
<path d="M382.50 373.10 H385.3" stroke="#000" stroke-width="1.1"/>
<path d="M534.50 518.8 V521.60" stroke="#000" stroke-width="1.1"/>
<text x="382.60" y="521.90" text-anchor="end" class="tk">0</text>
<text x="385.30" y="529.20" text-anchor="middle" class="tk">0</text>
<text x="382.60" y="492.76" text-anchor="end" class="tk">5</text>
<text x="415.14" y="529.20" text-anchor="middle" class="tk">5</text>
<text x="382.60" y="463.62" text-anchor="end" class="tk">10</text>
<text x="444.98" y="529.20" text-anchor="middle" class="tk">10</text>
<text x="382.60" y="434.48" text-anchor="end" class="tk">15</text>
<text x="474.82" y="529.20" text-anchor="middle" class="tk">15</text>
<text x="382.60" y="405.34" text-anchor="end" class="tk">20</text>
<text x="504.66" y="529.20" text-anchor="middle" class="tk">20</text>
<text x="382.60" y="376.20" text-anchor="end" class="tk">25</text>
<text x="534.50" y="529.20" text-anchor="middle" class="tk">25</text>
<text x="459.40" y="543.40" text-anchor="middle" class="xl">SMOS ice thickness(cm)</text>
<text transform="translate(370.30,445.95) rotate(-90)" text-anchor="middle" class="yl">number of pixel at ice edge</text>
<rect x="461.3" y="381.4" width="24.099999999999966" height="11.900000000000034" fill="#ffff00" stroke="#40302a" stroke-width="0.5"/>
<text x="489.5" y="391.15" class="lg">MODIS</text>
<text x="489.7" y="409.6" class="ms">M=6.6</text>
<text x="491" y="426.4" class="ms">S=3.1</text>
</svg></body></html>
